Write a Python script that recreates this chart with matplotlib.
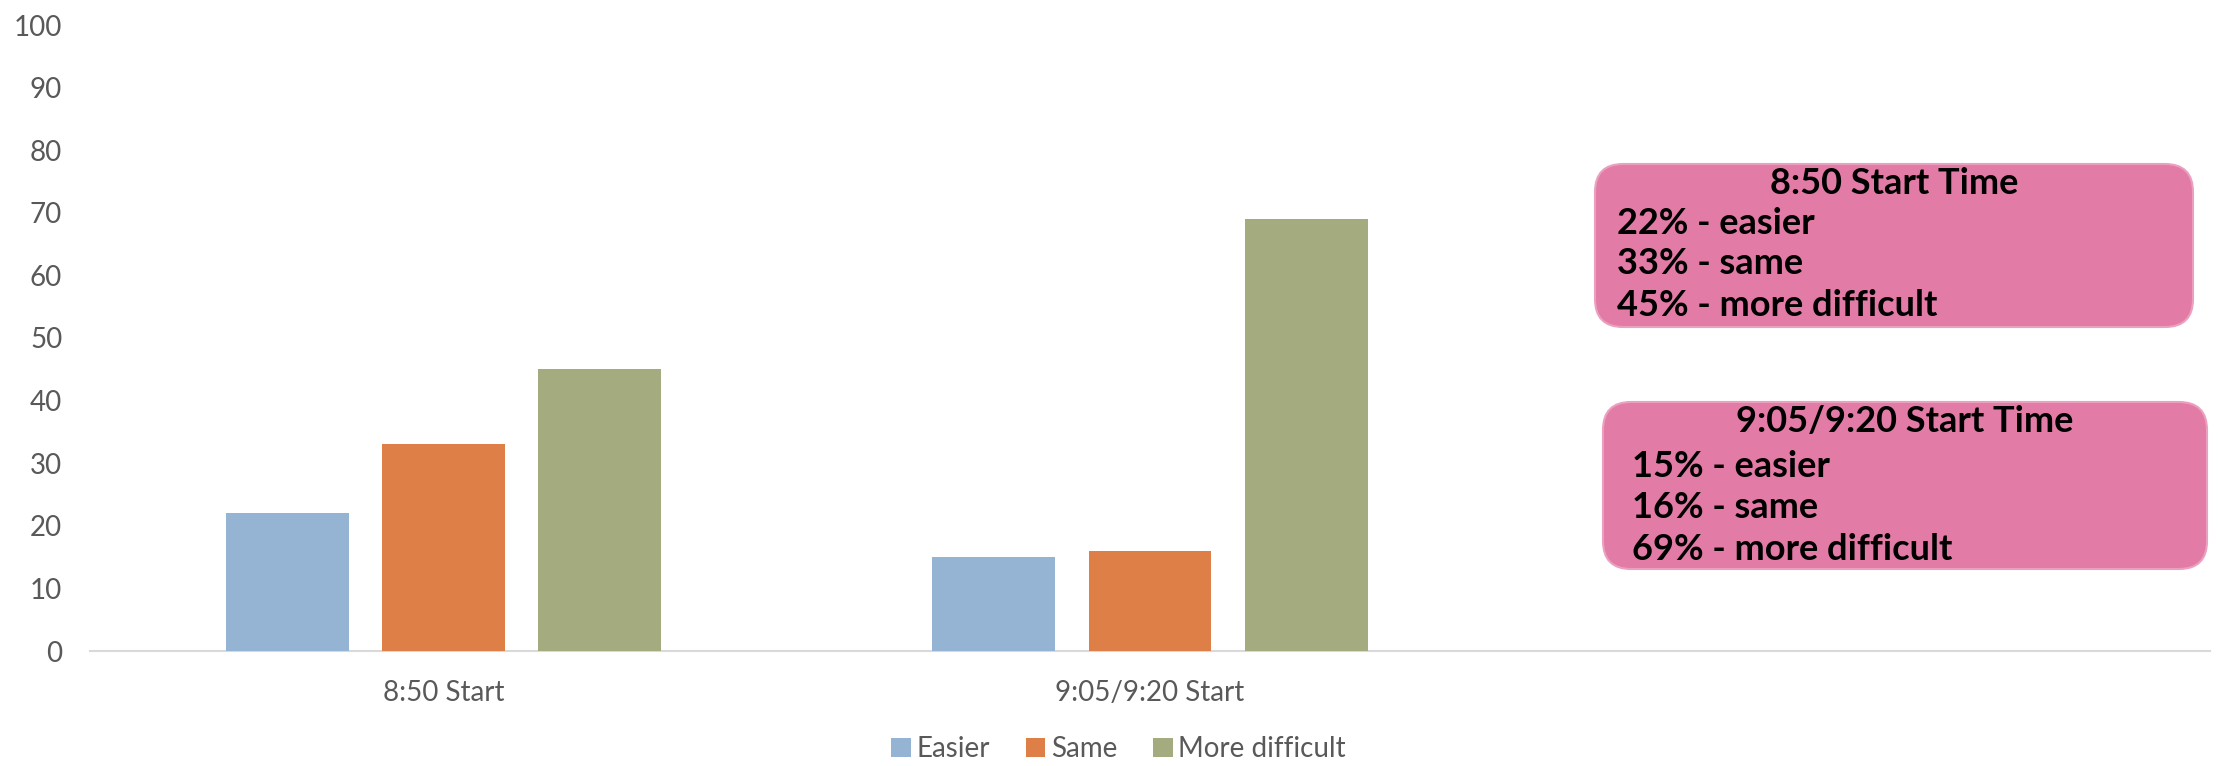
import matplotlib
matplotlib.use('Agg')
import numpy as np
import matplotlib.pyplot as plt
from matplotlib.patches import FancyBboxPatch
from matplotlib.transforms import IdentityTransform

categories = ['8:50 Start', '9:05/9:20 Start', '']
series_names = ['Easier', 'Same', 'More difficult']
easier = [22, 15]
same = [33, 16]
more_difficult = [45, 69]
colors = ['#95B4D3', '#DD7F47', '#A4AB7F']

box_titles = ['8:50 Start Time', '9:05/9:20 Start Time']
box_lines = [['22% - easier', '33% - same', '45% - more difficult'],
             ['15% - easier', '16% - same', '69% - more difficult']]

W, H = 2219, 766
plt.rcParams['font.family'] = ['Lato', 'DejaVu Sans']
fig = plt.figure(figsize=(W / 100, H / 100), dpi=100)
ax = fig.add_axes([90 / W, 1 - 651 / H, (2210 - 90) / W, (651 - 25) / H])

x = np.arange(len(easier))
bw, step = 0.174, 0.221
for i, (vals, name) in enumerate(zip([easier, same, more_difficult], series_names)):
    ax.bar(x + (i - 1) * step, vals, width=bw, color=colors[i], label=name, zorder=3)

ax.set_xlim(-0.5, len(categories) - 0.5)
ax.set_ylim(0, 100)
ax.set_yticks(range(0, 101, 10))
ax.set_xticks(range(len(categories)))
ax.set_xticklabels(categories)
for s in ['top', 'right', 'left']:
    ax.spines[s].set_visible(False)
ax.spines['bottom'].set_color('#D9D9D9')
ax.spines['bottom'].set_linewidth(1.5)
ax.tick_params(axis='both', length=0, labelsize=20, colors='#595959')
ax.tick_params(axis='y', pad=20)
ax.tick_params(axis='x', pad=21)

leg = fig.legend(loc='center', bbox_to_anchor=(0.5 + 9 / W, 17 / H), ncol=3, frameon=False,
                 fontsize=20, handlelength=0.7, handleheight=0.7, handletextpad=0.2,
                 columnspacing=1.3, labelcolor='#595959')

# pink annotation boxes (pixel coords, top-left origin)
boxes = [(1595, 164, 2193, 327), (1603, 402, 2207, 569)]
title_y = [184, 422]
line_x = [1617, 1632]
line_y = [[224, 263, 306], [466, 508, 549]]
for k, (x0, y0, x1, y1) in enumerate(boxes):
    p = FancyBboxPatch((x0, H - y1), x1 - x0, y1 - y0,
                       boxstyle='round,pad=0,rounding_size=28',
                       transform=IdentityTransform(), facecolor='#E27BA6',
                       edgecolor='#EBA0C0', linewidth=1.5)
    fig.add_artist(p)
    fig.text((x0 + x1) / 2 / W, 1 - title_y[k] / H, box_titles[k], ha='center', va='center',
             fontsize=26, fontweight='bold', color='black')
    for t, yy in zip(box_lines[k], line_y[k]):
        fig.text(line_x[k] / W, 1 - yy / H, t, ha='left', va='center',
                 fontsize=26, fontweight='bold', color='black')

fig.savefig('out.png', dpi=100)
